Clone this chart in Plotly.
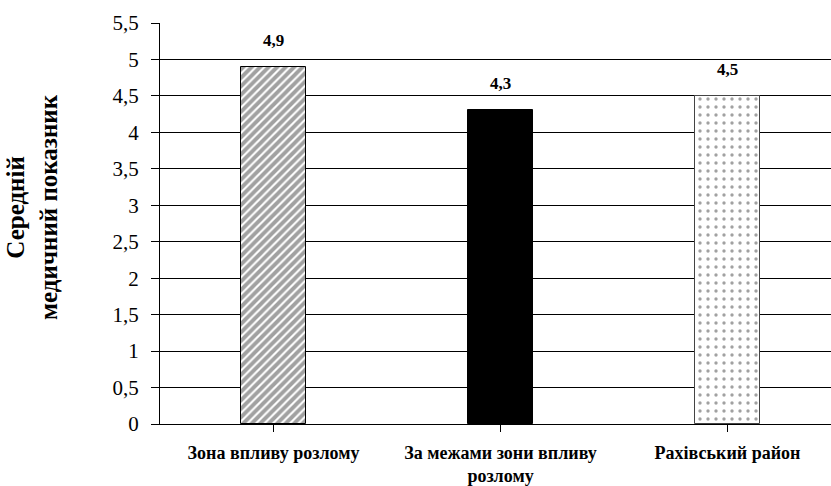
import plotly.graph_objects as go

# Average medical index by area
categories = ["Зона впливу розлому", "За межами зони впливу<br>розлому", "Рахівський район"]
values = [4.9, 4.3, 4.5]
value_labels = ["4,9", "4,3", "4,5"]
y_ticks = [0, 0.5, 1, 1.5, 2, 2.5, 3, 3.5, 4, 4.5, 5, 5.5]
y_tick_labels = ["0", "0,5", "1", "1,5", "2", "2,5", "3", "3,5", "4", "4,5", "5", "5,5"]

serif = "Liberation Serif"

fig = go.Figure()
fig.add_trace(go.Bar(
    x=[0, 1, 2],
    y=values,
    width=0.29,
    marker=dict(
        color=["white", "black", "white"],
        line=dict(color=["black", "black", "#444444"], width=1),
        pattern=dict(
            shape=["/", "", "."],
            fgcolor=["black", "black", "#333333"],
            bgcolor=["white", "black", "white"],
            size=[6, 8, 8],
            solidity=[0.65, 0.3, 0.14],
            fillmode="overlay",
        ),
    ),
    showlegend=False,
))

for i, (v, lab) in enumerate(zip(values, value_labels)):
    fig.add_annotation(
        x=i, y=v, text=f"<b>{lab}</b>", showarrow=False,
        yanchor="bottom", yshift=15,
        font=dict(family=serif, size=17, color="black"),
    )

# y-axis title in two lines
fig.add_annotation(
    xref="paper", yref="paper", x=-0.19, y=0.54,
    text="<b>Середній<br>медичний показник</b>",
    textangle=-90, showarrow=False, xanchor="center", yanchor="middle",
    font=dict(family=serif, size=25, color="black"),
)

fig.update_layout(
    width=831, height=486,
    margin=dict(l=160, r=0, t=23, b=62),
    plot_bgcolor="white", paper_bgcolor="white",
    separators=", ",
    bargap=0,
    font=dict(family=serif),
    xaxis=dict(
        range=[-0.5, -0.5 + 671 / 227],
        tickmode="array", tickvals=[0, 1, 2], ticktext=[f"<b>{c}</b>" for c in categories],
        tickson="boundaries",
        ticks="outside", ticklen=7, tickcolor="black", tickwidth=1,
        showline=True, linecolor="black", linewidth=1,
        showgrid=False, zeroline=False,
        tickfont=dict(family=serif, size=18, color="black"),
        ticklabelstandoff=5,
        automargin=False,
    ),
    yaxis=dict(
        range=[0, 5.5],
        tickmode="array", tickvals=y_ticks, ticktext=y_tick_labels,
        ticks="outside", ticklen=8, tickcolor="black", tickwidth=1,
        showline=True, linecolor="black", linewidth=1,
        showgrid=True, gridcolor="black", gridwidth=1,
        zeroline=False,
        tickfont=dict(family=serif, size=21, color="black"),
        ticklabelstandoff=8,
        automargin=False,
    ),
)

fig.write_html("out.html")
